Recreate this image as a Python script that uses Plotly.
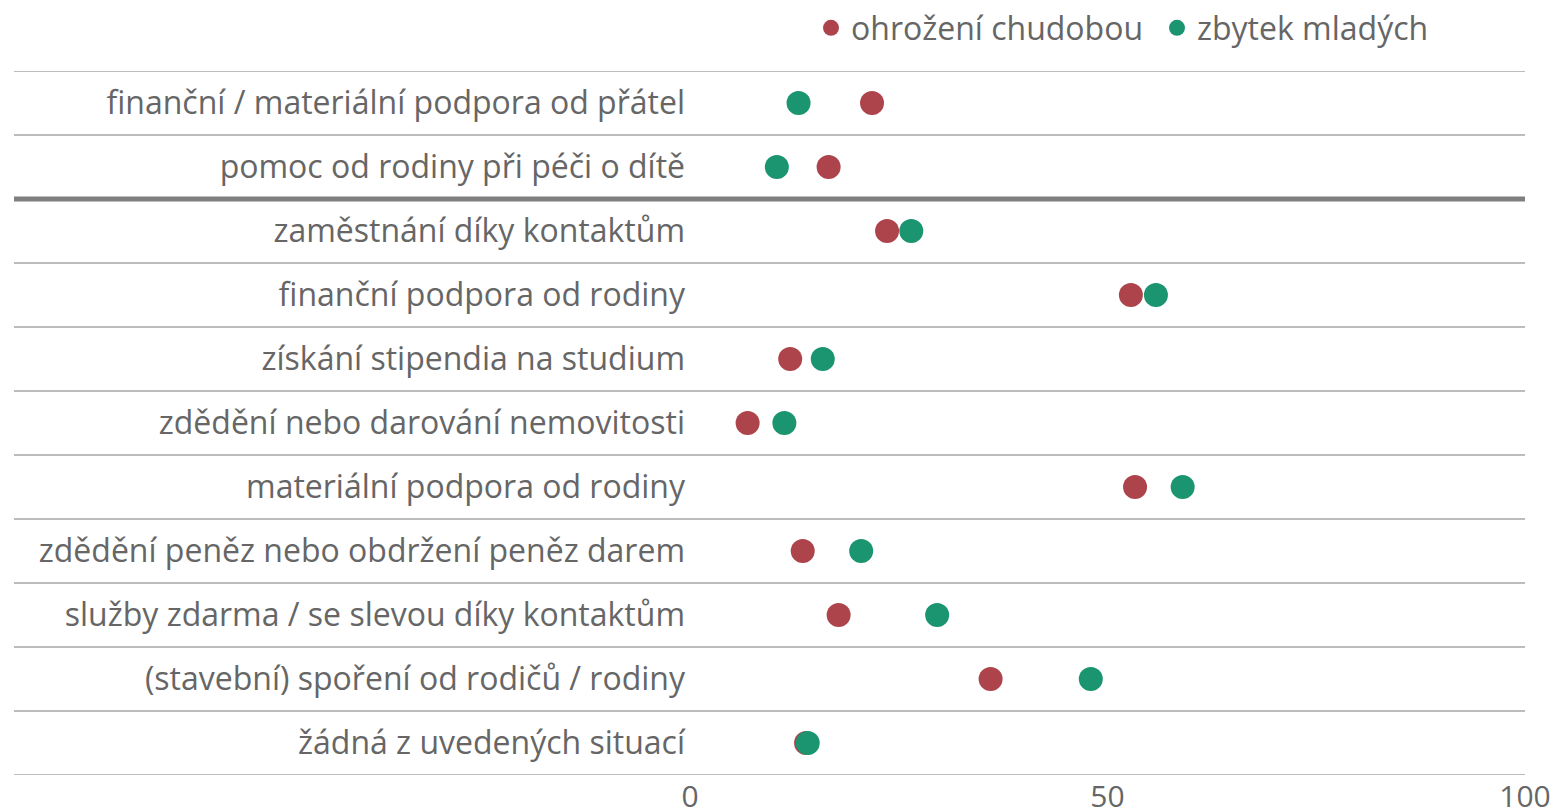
import plotly.graph_objects as go

categories = [
    "finanční / materiální podpora od přátel",
    "pomoc od rodiny při péči o dítě",
    "zaměstnání díky kontaktům",
    "finanční podpora od rodiny",
    "získání stipendia na studium",
    "zdědění nebo darování nemovitosti",
    "materiální podpora od rodiny",
    "zdědění peněz nebo obdržení peněz darem",
    "služby zdarma / se slevou díky kontaktům",
    "(stavební) spoření od rodičů / rodiny",
    "žádná z uvedených situací",
]
ohrozeni = [21.8, 16.6, 23.6, 52.8, 12.0, 6.9, 53.3, 13.5, 17.8, 36.0, 13.9]
zbytek = [13.0, 10.4, 26.5, 55.8, 15.9, 11.3, 59.0, 20.5, 29.6, 48.0, 14.1]
x_ticks = [0, 50, 100]

RED = "#AD444B"
GREEN = "#1A9570"
TEXT = "#666666"
FONT = "Open Sans"
FS = 32

fig = go.Figure()
fig.add_trace(go.Scatter(
    x=ohrozeni, y=categories, mode="markers", name="ohrožení chudobou",
    marker=dict(color=RED, size=24, line=dict(width=0)),
))
fig.add_trace(go.Scatter(
    x=zbytek, y=categories, mode="markers", name="zbytek mladých",
    marker=dict(color=GREEN, size=24, line=dict(width=0)),
))

n = len(categories)
left = -676 / 835
for i in range(n + 1):
    yv = i - 0.5
    thick = (i == 2)
    fig.add_shape(type="line", xref="paper", yref="y", x0=left, x1=1,
                  y0=yv, y1=yv,
                  line=dict(color="#7F7F7F" if thick else "#A6A6A6",
                            width=5 if thick else 1.3),
                  layer="below")

fig.update_layout(
    width=1560, height=812,
    margin=dict(l=690, r=35, t=71, b=37),
    paper_bgcolor="white", plot_bgcolor="white",
    font=dict(family=FONT, color=TEXT, size=FS),
    showlegend=True,
    legend=dict(orientation="h", xref="paper", x=(803 + 8 - 690) / 835, xanchor="left",
                yref="container", y=1 - 28 / 812, yanchor="middle",
                font=dict(size=FS, color=TEXT, family=FONT),
                itemsizing="trace", traceorder="normal",
                entrywidth=301, entrywidthmode="pixels",
                bgcolor="rgba(0,0,0,0)"),
    xaxis=dict(range=[0, 100], tickvals=x_ticks, showgrid=False, zeroline=False,
               showline=False, ticks="", tickfont=dict(size=30, color=TEXT),
               ticklabelstandoff=1, automargin=False, fixedrange=True),
    yaxis=dict(categoryorder="array", categoryarray=categories,
               range=[n - 0.5, -0.5], showgrid=False, zeroline=False,
               showline=False, ticks="", ticklabelstandoff=4, automargin=False,
               tickfont=dict(size=FS, color=TEXT), fixedrange=True),
)

fig.write_html(
    "out.html",
    config={"displayModeBar": False},
    post_script="document.body.style.margin='0';document.body.style.overflow='hidden';",
)
